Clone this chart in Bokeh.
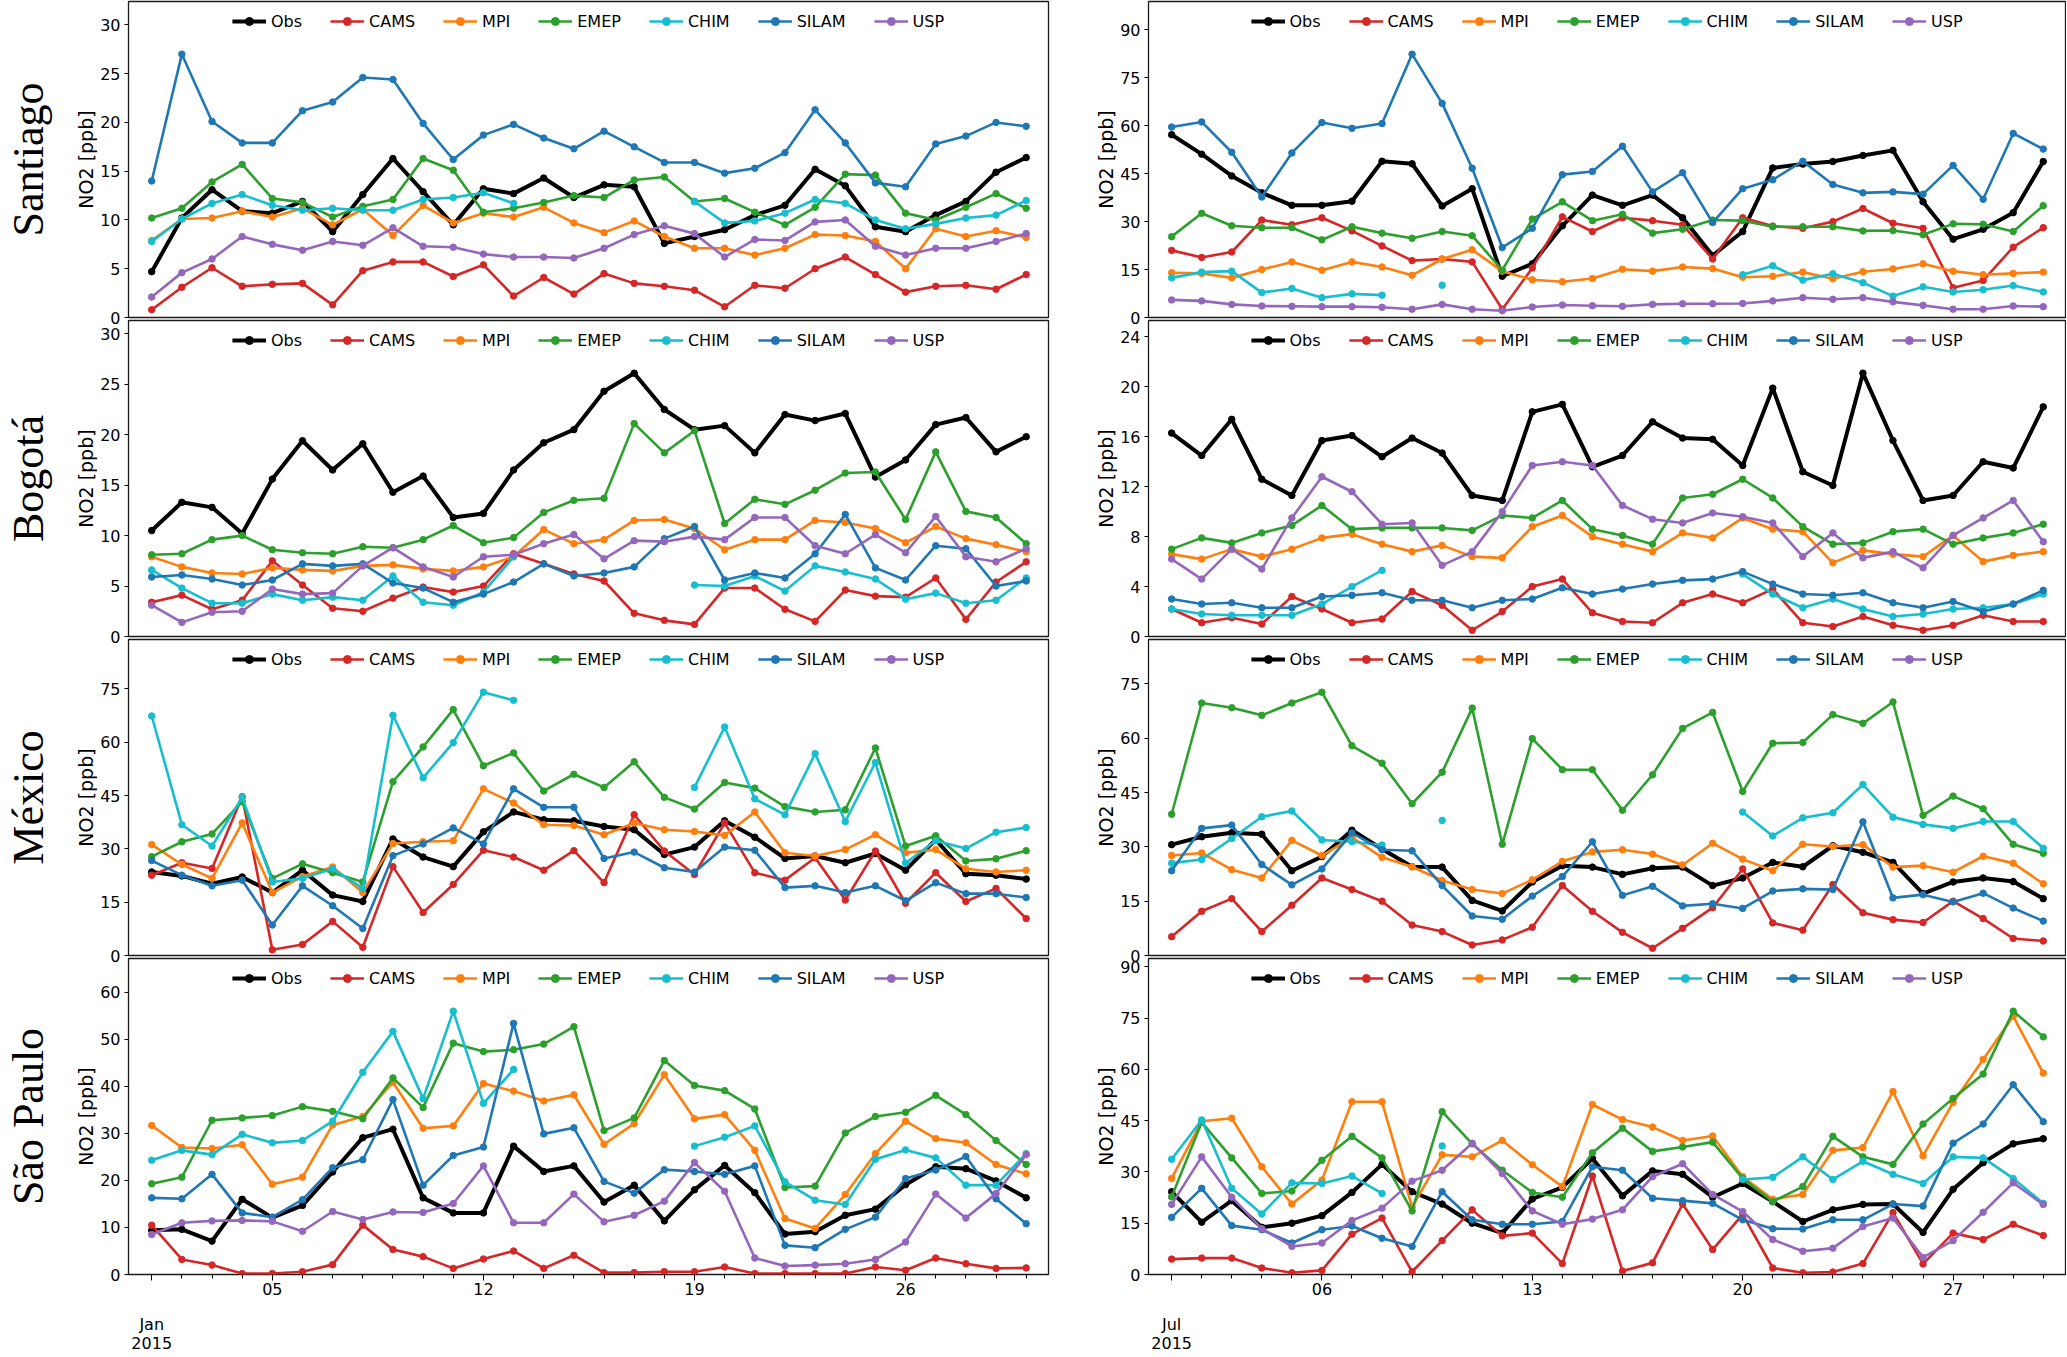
import numpy as np
from bokeh.plotting import figure
from bokeh.models import FixedTicker, LinearAxis, Range1d, Legend, LegendItem, ColumnDataSource
from bokeh.layouts import row, column
from bokeh.embed import file_html
from bokeh.resources import INLINE

NaN = float("nan")

# ---------------- categories / labels ----------------
DAYS = list(range(1, 31))
SERIES = ["Obs", "CAMS", "MPI", "EMEP", "CHIM", "SILAM", "USP"]
CITIES = ["Santiago", "Bogotá", "México", "São Paulo"]
MONTHS = ["Jan", "Jul"]
MONTH_LABELS = {"Jan": "Jan\n2015", "Jul": "Jul\n2015"}
WEEK_TICKS = {"Jan": [5, 12, 19, 26], "Jul": [6, 13, 20, 27]}
WEEK_TICK_LABELS = {"Jan": ["05", "12", "19", "26"], "Jul": ["06", "13", "20", "27"]}
Y_LABEL = "NO2 [ppb]"
Y_TICKS = {
    ("Santiago", "Jan"): [0, 5, 10, 15, 20, 25, 30],
    ("Santiago", "Jul"): [0, 15, 30, 45, 60, 75, 90],
    ("Bogotá", "Jan"): [0, 5, 10, 15, 20, 25, 30],
    ("Bogotá", "Jul"): [0, 4, 8, 12, 16, 20, 24],
    ("México", "Jan"): [0, 15, 30, 45, 60, 75],
    ("México", "Jul"): [0, 15, 30, 45, 60, 75],
    ("São Paulo", "Jan"): [0, 10, 20, 30, 40, 50, 60],
    ("São Paulo", "Jul"): [0, 15, 30, 45, 60, 75, 90],
}

# ---------------- Santiago, January ----------------
SANTIAGO_JAN_OBS = [4.7, 10.2, 13.1, 10.9, 10.7, 11.9, 8.8, 12.6, 16.3, 12.9, 9.5, 13.2, 12.7, 14.3, 12.3, 13.6, 13.4, 7.6, 8.3, 9.0, 10.5, 11.5, 15.2, 13.5, 9.3, 8.8, 10.5, 11.9, 14.9, 16.4]
SANTIAGO_JAN_CAMS = [0.8, 3.1, 5.1, 3.2, 3.4, 3.5, 1.3, 4.8, 5.7, 5.7, 4.2, 5.4, 2.2, 4.1, 2.4, 4.5, 3.5, 3.2, 2.8, 1.1, 3.3, 3.0, 5.0, 6.2, 4.4, 2.6, 3.2, 3.3, 2.9, 4.4]
SANTIAGO_JAN_MPI = [7.9, 10.1, 10.2, 10.9, 10.3, 11.2, 9.5, 11.1, 8.4, 11.5, 9.7, 10.7, 10.3, 11.3, 9.7, 8.7, 9.9, 8.3, 7.1, 7.1, 6.4, 7.1, 8.5, 8.4, 7.8, 5.0, 9.1, 8.3, 8.9, 8.2]
SANTIAGO_JAN_EMEP = [10.2, 11.2, 13.9, 15.7, 12.2, 11.8, 10.3, 11.4, 12.1, 16.3, 15.1, 10.8, 11.2, 11.8, 12.5, 12.3, 14.1, 14.4, 11.9, 12.2, 10.8, 9.5, 11.3, 14.7, 14.6, 10.7, 10.0, 11.3, 12.7, 11.2]
SANTIAGO_JAN_CHIM = [7.8, 10.1, 11.7, 12.6, 11.5, 11.0, 11.2, 11.0, 11.0, 12.1, 12.3, 12.8, 11.7, NaN, NaN, NaN, NaN, NaN, 11.9, 9.7, 9.9, 10.7, 12.1, 11.7, 10.0, 9.1, 9.6, 10.2, 10.5, 12.0]
SANTIAGO_JAN_SILAM = [14.0, 27.0, 20.1, 17.9, 17.9, 21.2, 22.1, 24.6, 24.4, 19.9, 16.2, 18.7, 19.8, 18.4, 17.3, 19.1, 17.5, 15.9, 15.9, 14.8, 15.3, 16.9, 21.3, 17.9, 13.8, 13.4, 17.8, 18.6, 20.0, 19.6]
SANTIAGO_JAN_USP = [2.1, 4.6, 6.0, 8.3, 7.5, 6.9, 7.8, 7.4, 9.2, 7.3, 7.2, 6.5, 6.2, 6.2, 6.1, 7.1, 8.5, 9.4, 8.6, 6.2, 8.0, 7.9, 9.8, 10.0, 7.3, 6.4, 7.1, 7.1, 7.8, 8.6]

# ---------------- Santiago, July ----------------
SANTIAGO_JUL_OBS = [57.2, 51.1, 44.3, 39.0, 35.1, 35.1, 36.4, 48.9, 48.1, 34.9, 40.3, 12.9, 16.8, 28.7, 38.3, 35.1, 38.3, 31.2, 19.4, 26.9, 46.8, 48.0, 48.8, 50.7, 52.3, 36.2, 24.5, 27.6, 32.8, 48.8]
SANTIAGO_JUL_CAMS = [21.0, 18.8, 20.5, 30.5, 29.0, 31.2, 27.1, 22.4, 17.8, 18.3, 17.4, 2.6, 15.5, 31.5, 26.9, 31.2, 30.3, 29.0, 18.3, 31.2, 28.6, 27.9, 30.0, 34.1, 29.5, 27.9, 9.3, 11.6, 22.0, 28.1]
SANTIAGO_JUL_MPI = [14.0, 13.8, 12.4, 15.0, 17.4, 14.8, 17.4, 15.8, 13.2, 18.3, 21.2, 14.5, 11.8, 11.2, 12.2, 15.1, 14.5, 15.8, 15.3, 12.6, 12.9, 14.2, 12.1, 14.3, 15.2, 16.8, 14.5, 13.4, 13.8, 14.2]
SANTIAGO_JUL_EMEP = [25.3, 32.6, 28.7, 28.1, 28.1, 24.3, 28.4, 26.4, 24.8, 26.9, 25.6, 14.8, 30.8, 36.2, 30.3, 32.3, 26.4, 27.6, 30.5, 30.3, 28.4, 28.4, 28.4, 27.1, 27.2, 25.9, 29.3, 29.2, 26.9, 35.0]
SANTIAGO_JUL_CHIM = [12.4, 14.2, 14.5, 7.8, 9.1, 6.2, 7.4, 7.0, NaN, 10.1, NaN, NaN, NaN, NaN, NaN, NaN, NaN, NaN, NaN, 13.4, 16.2, 11.7, 13.7, 10.9, 6.7, 9.6, 8.0, 8.7, 10.0, 8.0]
SANTIAGO_JUL_SILAM = [59.6, 61.2, 51.7, 37.7, 51.5, 61.0, 59.2, 60.7, 82.4, 67.0, 46.7, 21.9, 27.9, 44.7, 45.7, 53.6, 39.3, 45.3, 29.7, 40.3, 43.1, 48.9, 41.6, 39.0, 39.3, 38.6, 47.6, 37.0, 57.6, 52.7]
SANTIAGO_JUL_USP = [5.5, 5.2, 4.1, 3.6, 3.5, 3.4, 3.4, 3.2, 2.6, 4.1, 2.6, 2.1, 3.3, 3.9, 3.7, 3.5, 4.1, 4.3, 4.3, 4.4, 5.2, 6.2, 5.7, 6.2, 4.9, 3.8, 2.6, 2.6, 3.6, 3.4]

# ---------------- Bogotá, January ----------------
BOGOTA_JAN_OBS = [10.5, 13.3, 12.8, 10.2, 15.6, 19.4, 16.5, 19.1, 14.3, 15.9, 11.8, 12.2, 16.5, 19.2, 20.5, 24.3, 26.1, 22.5, 20.5, 20.9, 18.2, 22.0, 21.4, 22.1, 15.8, 17.5, 21.0, 21.7, 18.3, 19.8]
BOGOTA_JAN_CAMS = [3.4, 4.1, 2.7, 3.6, 7.5, 5.1, 2.8, 2.5, 3.8, 4.9, 4.4, 5.0, 8.2, 7.2, 6.2, 5.5, 2.3, 1.6, 1.2, 4.8, 4.8, 2.7, 1.5, 4.6, 4.0, 3.9, 5.8, 1.7, 5.4, 7.4]
BOGOTA_JAN_MPI = [7.9, 6.9, 6.3, 6.2, 6.8, 6.6, 6.5, 7.0, 7.1, 6.7, 6.5, 6.9, 7.9, 10.6, 9.2, 9.6, 11.5, 11.6, 10.7, 8.6, 9.6, 9.6, 11.5, 11.3, 10.7, 9.3, 10.9, 9.7, 9.1, 8.4]
BOGOTA_JAN_EMEP = [8.1, 8.2, 9.6, 10.0, 8.6, 8.3, 8.2, 8.9, 8.8, 9.6, 11.0, 9.3, 9.8, 12.3, 13.5, 13.7, 21.1, 18.2, 20.4, 11.2, 13.6, 13.1, 14.5, 16.2, 16.3, 11.6, 18.3, 12.4, 11.8, 9.2]
BOGOTA_JAN_CHIM = [6.6, 4.8, 3.3, 3.3, 4.2, 3.6, 3.9, 3.6, 6.0, 3.4, 3.1, 4.4, 7.9, NaN, NaN, NaN, NaN, NaN, 5.1, 5.0, 6.0, 4.5, 7.0, 6.4, 5.7, 3.7, 4.3, 3.3, 3.6, 5.8]
BOGOTA_JAN_SILAM = [5.9, 6.1, 5.7, 5.1, 5.6, 7.2, 7.0, 7.2, 5.3, 4.8, 3.4, 4.2, 5.4, 7.2, 6.0, 6.3, 6.9, 9.7, 10.9, 5.6, 6.3, 5.8, 8.2, 12.1, 6.8, 5.6, 9.0, 8.7, 5.0, 5.5]
BOGOTA_JAN_USP = [3.1, 1.4, 2.4, 2.5, 4.7, 4.2, 4.3, 7.0, 8.8, 6.9, 5.9, 7.9, 8.1, 9.2, 10.1, 7.7, 9.5, 9.4, 9.9, 9.6, 11.8, 11.8, 9.0, 8.2, 10.1, 8.3, 11.9, 7.9, 7.4, 8.7]

# ---------------- Bogotá, July ----------------
BOGOTA_JUL_OBS = [16.3, 14.5, 17.4, 12.6, 11.3, 15.7, 16.1, 14.4, 15.9, 14.7, 11.3, 10.9, 18.0, 18.6, 13.6, 14.5, 17.2, 15.9, 15.8, 13.7, 19.9, 13.2, 12.1, 21.1, 15.7, 10.9, 11.3, 14.0, 13.5, 18.4]
BOGOTA_JUL_CAMS = [2.2, 1.1, 1.5, 1.0, 3.2, 2.2, 1.1, 1.4, 3.6, 2.5, 0.5, 2.0, 4.0, 4.6, 1.9, 1.2, 1.1, 2.7, 3.4, 2.7, 3.8, 1.1, 0.8, 1.6, 0.9, 0.5, 0.9, 1.7, 1.2, 1.2]
BOGOTA_JUL_MPI = [6.6, 6.2, 7.0, 6.4, 7.0, 7.9, 8.2, 7.4, 6.8, 7.3, 6.4, 6.3, 8.8, 9.7, 8.0, 7.4, 6.8, 8.3, 7.9, 9.5, 8.6, 8.4, 5.9, 6.9, 6.6, 6.4, 8.1, 6.0, 6.5, 6.8]
BOGOTA_JUL_EMEP = [7.0, 7.9, 7.5, 8.3, 8.9, 10.5, 8.6, 8.7, 8.7, 8.7, 8.5, 9.7, 9.5, 10.9, 8.6, 8.1, 7.4, 11.1, 11.4, 12.6, 11.1, 8.8, 7.4, 7.5, 8.4, 8.6, 7.4, 7.9, 8.3, 9.0]
BOGOTA_JUL_CHIM = [2.2, 1.8, 1.7, 1.7, 1.7, 2.6, 4.0, 5.3, NaN, NaN, NaN, NaN, NaN, NaN, NaN, NaN, NaN, NaN, NaN, 5.0, 3.4, 2.3, 3.0, 2.2, 1.6, 1.8, 2.2, 2.3, 2.6, 3.4]
BOGOTA_JUL_SILAM = [3.0, 2.6, 2.7, 2.3, 2.3, 3.2, 3.3, 3.5, 2.9, 2.9, 2.3, 2.9, 3.0, 3.9, 3.4, 3.8, 4.2, 4.5, 4.6, 5.2, 4.2, 3.4, 3.3, 3.5, 2.7, 2.3, 2.8, 2.0, 2.6, 3.7]
BOGOTA_JUL_USP = [6.2, 4.6, 7.0, 5.4, 9.5, 12.8, 11.6, 9.0, 9.1, 5.7, 6.8, 10.0, 13.7, 14.0, 13.7, 10.5, 9.4, 9.1, 9.9, 9.6, 9.1, 6.4, 8.3, 6.3, 6.8, 5.5, 8.1, 9.5, 10.9, 7.6]

# ---------------- México, January ----------------
MEXICO_JAN_OBS = [23.5, 22.4, 20.2, 22.1, 17.7, 24.0, 17.0, 15.2, 32.8, 27.7, 25.0, 34.8, 40.4, 38.2, 37.9, 36.3, 35.4, 28.4, 30.5, 37.9, 33.3, 27.3, 28.0, 26.1, 28.7, 24.0, 32.6, 23.0, 22.6, 21.5]
MEXICO_JAN_CAMS = [22.6, 26.1, 24.5, 44.7, 1.6, 3.1, 9.6, 2.3, 25.0, 12.1, 20.0, 29.6, 27.7, 24.0, 29.5, 20.5, 39.6, 29.4, 22.8, 37.3, 23.3, 21.2, 27.5, 15.6, 29.4, 14.7, 23.3, 15.2, 18.9, 10.4]
MEXICO_JAN_MPI = [31.2, 25.6, 21.7, 37.3, 17.7, 22.2, 24.9, 17.7, 31.5, 32.0, 32.3, 46.9, 42.9, 36.8, 36.6, 34.0, 37.3, 35.4, 34.9, 33.8, 40.4, 28.9, 28.0, 29.8, 34.0, 28.9, 29.8, 24.4, 23.5, 24.0]
MEXICO_JAN_EMEP = [27.8, 32.0, 34.2, 43.3, 21.7, 25.8, 23.3, 20.7, 48.9, 58.7, 69.2, 53.4, 57.0, 46.3, 51.0, 47.3, 54.5, 44.5, 41.2, 48.7, 47.1, 41.9, 40.4, 41.0, 58.4, 30.8, 33.7, 26.6, 27.2, 29.5]
MEXICO_JAN_CHIM = [67.4, 36.8, 30.8, 44.5, 20.7, 21.7, 24.4, 18.9, 67.6, 50.0, 59.9, 74.1, 71.8, NaN, NaN, NaN, NaN, NaN, 47.3, 64.3, 44.1, 39.6, 56.8, 37.7, 54.3, 26.0, 32.3, 30.1, 34.7, 36.0]
MEXICO_JAN_SILAM = [26.7, 22.6, 19.6, 21.2, 8.6, 19.6, 14.0, 7.6, 28.1, 31.4, 35.9, 31.4, 46.9, 41.7, 41.7, 27.3, 29.1, 24.7, 23.5, 30.5, 29.6, 19.1, 19.6, 17.7, 19.6, 15.4, 20.5, 17.4, 17.4, 16.3]
MEXICO_JAN_USP = [NaN] * 30

# ---------------- México, July ----------------
MEXICO_JUL_OBS = [30.6, 32.8, 33.9, 33.5, 23.4, 27.3, 34.6, 29.4, 24.5, 24.4, 15.2, 12.3, 20.3, 24.8, 24.4, 22.4, 24.1, 24.4, 19.3, 21.4, 25.7, 24.5, 30.3, 28.5, 25.7, 17.1, 20.3, 21.4, 20.4, 15.7]
MEXICO_JUL_CAMS = [5.2, 12.2, 15.7, 6.6, 13.9, 21.4, 18.2, 15.0, 8.4, 6.6, 2.9, 4.3, 7.8, 19.3, 12.2, 6.4, 2.0, 7.5, 13.2, 23.9, 9.0, 7.0, 19.6, 11.8, 9.9, 9.1, 15.0, 10.2, 4.7, 4.0]
MEXICO_JUL_MPI = [27.6, 28.3, 23.7, 21.4, 31.8, 27.6, 32.6, 27.1, 24.5, 20.7, 18.2, 17.1, 20.9, 26.0, 28.6, 29.2, 28.0, 25.0, 31.0, 26.6, 23.4, 30.7, 30.1, 30.6, 24.4, 24.8, 23.0, 27.4, 25.5, 19.8]
MEXICO_JUL_EMEP = [39.0, 69.7, 68.4, 66.3, 69.7, 72.7, 57.9, 53.1, 41.9, 50.6, 68.3, 30.7, 59.9, 51.3, 51.3, 40.1, 49.9, 62.7, 67.1, 45.3, 58.6, 58.8, 66.5, 64.1, 70.0, 38.7, 44.0, 40.5, 30.7, 28.2]
MEXICO_JUL_CHIM = [25.5, 26.5, 32.3, 38.3, 39.9, 31.9, 31.4, 30.5, NaN, 37.3, NaN, NaN, NaN, NaN, NaN, NaN, NaN, NaN, NaN, 39.6, 33.0, 38.0, 39.4, 47.2, 38.2, 36.2, 35.1, 37.0, 37.0, 29.6]
MEXICO_JUL_SILAM = [23.4, 35.1, 36.0, 25.1, 19.5, 23.9, 33.8, 29.2, 28.9, 19.3, 10.9, 10.0, 16.4, 21.8, 31.4, 16.6, 19.1, 13.7, 14.3, 13.0, 17.8, 18.4, 18.2, 36.9, 15.9, 16.8, 14.8, 17.2, 13.1, 9.5]
MEXICO_JUL_USP = [NaN] * 30

# ---------------- São Paulo, January ----------------
SAOPAULO_JAN_OBS = [9.4, 9.6, 7.1, 16.0, 12.1, 14.7, 21.8, 29.1, 30.9, 16.3, 13.1, 13.1, 27.3, 21.9, 23.1, 15.4, 19.0, 11.4, 18.0, 23.2, 17.4, 8.6, 9.1, 12.6, 13.9, 19.1, 22.9, 22.5, 19.9, 16.3]
SAOPAULO_JAN_CAMS = [10.5, 3.2, 2.0, 0.2, 0.2, 0.6, 2.1, 10.5, 5.3, 3.8, 1.3, 3.3, 5.0, 1.3, 4.1, 0.4, 0.4, 0.6, 0.6, 1.6, 0.2, 0.2, 0.2, 0.2, 1.6, 0.9, 3.5, 2.3, 1.3, 1.4]
SAOPAULO_JAN_MPI = [31.7, 27.0, 26.8, 27.6, 19.2, 20.7, 31.8, 33.6, 40.9, 31.1, 31.6, 40.6, 39.0, 36.9, 38.2, 27.7, 32.1, 42.5, 33.1, 34.0, 26.4, 11.9, 9.8, 17.0, 25.7, 32.6, 28.9, 28.0, 23.4, 21.4]
SAOPAULO_JAN_EMEP = [19.3, 20.7, 32.8, 33.3, 33.8, 35.7, 34.7, 33.1, 41.8, 35.5, 49.2, 47.4, 47.8, 49.0, 52.7, 30.6, 33.3, 45.5, 40.2, 39.1, 35.2, 18.5, 18.8, 30.1, 33.6, 34.5, 38.1, 34.0, 28.5, 23.4]
SAOPAULO_JAN_CHIM = [24.3, 26.4, 25.5, 29.8, 28.0, 28.5, 32.6, 43.0, 51.7, 37.4, 56.0, 36.4, 43.6, NaN, NaN, NaN, NaN, NaN, 27.3, 29.2, 31.6, 19.7, 15.8, 14.9, 24.5, 26.5, 24.8, 19.0, 19.0, 25.7]
SAOPAULO_JAN_SILAM = [16.3, 16.1, 21.3, 13.1, 12.2, 15.9, 22.7, 24.4, 37.2, 19.0, 25.3, 27.1, 53.4, 29.9, 31.2, 19.8, 17.3, 22.3, 21.9, 21.3, 23.1, 6.2, 5.7, 9.6, 12.2, 20.4, 22.2, 25.1, 16.1, 10.8]
SAOPAULO_JAN_USP = [8.5, 11.0, 11.4, 11.5, 11.3, 9.2, 13.4, 11.7, 13.3, 13.2, 15.1, 23.1, 11.0, 11.0, 17.1, 11.2, 12.6, 15.6, 23.8, 17.7, 3.5, 1.8, 2.0, 2.3, 3.2, 6.9, 17.1, 12.0, 17.2, 25.5]

# ---------------- São Paulo, July ----------------
SAOPAULO_JUL_OBS = [24.2, 15.3, 21.6, 13.8, 15.0, 17.2, 24.0, 32.2, 24.2, 20.6, 15.0, 12.1, 22.1, 25.5, 33.9, 23.0, 30.3, 29.3, 22.6, 26.6, 21.3, 15.5, 18.9, 20.5, 20.6, 12.3, 24.9, 32.7, 38.2, 39.7]
SAOPAULO_JUL_CAMS = [4.5, 4.8, 4.8, 1.9, 0.5, 1.2, 11.8, 16.5, 0.8, 9.9, 18.9, 11.3, 12.1, 3.2, 28.8, 1.0, 3.4, 20.6, 7.3, 17.6, 1.9, 0.5, 0.7, 3.2, 18.1, 3.1, 12.1, 10.2, 14.7, 11.4]
SAOPAULO_JUL_MPI = [28.1, 44.8, 45.7, 31.5, 20.6, 27.6, 50.5, 50.5, 19.7, 35.0, 34.4, 39.2, 32.1, 25.7, 49.7, 45.3, 43.1, 39.2, 40.5, 28.6, 22.0, 23.4, 36.3, 37.1, 53.5, 34.7, 50.3, 62.9, 75.5, 58.9]
SAOPAULO_JUL_EMEP = [22.7, 44.5, 34.1, 23.7, 24.4, 33.4, 40.4, 34.1, 18.6, 47.6, 38.2, 30.5, 24.0, 22.6, 35.6, 42.8, 36.0, 37.3, 38.7, 28.1, 21.3, 25.7, 40.4, 34.4, 32.2, 44.0, 51.5, 58.6, 77.0, 69.5]
SAOPAULO_JUL_CHIM = [33.7, 45.2, 25.2, 17.7, 26.8, 26.6, 28.8, 23.7, NaN, 37.6, NaN, NaN, NaN, NaN, NaN, NaN, NaN, NaN, NaN, 27.8, 28.4, 34.4, 27.8, 33.1, 29.3, 26.6, 34.4, 34.1, 28.1, 20.8]
SAOPAULO_JUL_SILAM = [16.7, 25.2, 14.3, 13.1, 9.2, 13.1, 14.2, 10.6, 8.2, 24.2, 16.0, 14.7, 14.7, 15.5, 31.5, 30.5, 22.3, 21.6, 20.8, 16.0, 13.4, 13.3, 16.0, 16.0, 20.6, 20.0, 38.4, 44.0, 55.5, 44.7]
SAOPAULO_JUL_USP = [20.5, 34.4, 22.6, 13.4, 8.2, 9.2, 15.8, 19.4, 27.3, 30.5, 38.4, 29.5, 18.6, 14.7, 16.2, 18.9, 28.6, 32.4, 23.4, 18.4, 10.2, 6.8, 7.7, 14.0, 16.5, 5.0, 9.9, 18.2, 26.8, 20.5]

DATA = {
    ("Santiago", "Jan"): [SANTIAGO_JAN_OBS, SANTIAGO_JAN_CAMS, SANTIAGO_JAN_MPI, SANTIAGO_JAN_EMEP, SANTIAGO_JAN_CHIM, SANTIAGO_JAN_SILAM, SANTIAGO_JAN_USP],
    ("Santiago", "Jul"): [SANTIAGO_JUL_OBS, SANTIAGO_JUL_CAMS, SANTIAGO_JUL_MPI, SANTIAGO_JUL_EMEP, SANTIAGO_JUL_CHIM, SANTIAGO_JUL_SILAM, SANTIAGO_JUL_USP],
    ("Bogotá", "Jan"): [BOGOTA_JAN_OBS, BOGOTA_JAN_CAMS, BOGOTA_JAN_MPI, BOGOTA_JAN_EMEP, BOGOTA_JAN_CHIM, BOGOTA_JAN_SILAM, BOGOTA_JAN_USP],
    ("Bogotá", "Jul"): [BOGOTA_JUL_OBS, BOGOTA_JUL_CAMS, BOGOTA_JUL_MPI, BOGOTA_JUL_EMEP, BOGOTA_JUL_CHIM, BOGOTA_JUL_SILAM, BOGOTA_JUL_USP],
    ("México", "Jan"): [MEXICO_JAN_OBS, MEXICO_JAN_CAMS, MEXICO_JAN_MPI, MEXICO_JAN_EMEP, MEXICO_JAN_CHIM, MEXICO_JAN_SILAM, MEXICO_JAN_USP],
    ("México", "Jul"): [MEXICO_JUL_OBS, MEXICO_JUL_CAMS, MEXICO_JUL_MPI, MEXICO_JUL_EMEP, MEXICO_JUL_CHIM, MEXICO_JUL_SILAM, MEXICO_JUL_USP],
    ("São Paulo", "Jan"): [SAOPAULO_JAN_OBS, SAOPAULO_JAN_CAMS, SAOPAULO_JAN_MPI, SAOPAULO_JAN_EMEP, SAOPAULO_JAN_CHIM, SAOPAULO_JAN_SILAM, SAOPAULO_JAN_USP],
    ("São Paulo", "Jul"): [SAOPAULO_JUL_OBS, SAOPAULO_JUL_CAMS, SAOPAULO_JUL_MPI, SAOPAULO_JUL_EMEP, SAOPAULO_JUL_CHIM, SAOPAULO_JUL_SILAM, SAOPAULO_JUL_USP],
}

# ---------------- styles / layout ----------------
COLORS = {"Obs": "#000000", "CAMS": "#d62728", "MPI": "#ff7f0e", "EMEP": "#2ca02c",
          "CHIM": "#17becf", "SILAM": "#1f77b4", "USP": "#9467bd"}
LINE_W = {"Obs": 4.0}
DEFAULT_LW = 2.6
SANS = "DejaVu Sans"
SERIF = "Liberation Serif"

FRAME_H = 316
TOP_B = 1
BOT_B = 10           # room for the "0" tick label
OVERLAP = 8          # rows overlap so frames are only 3px apart
BOT_B_LAST = 82
ROW_H = TOP_B + FRAME_H + BOT_B
BOT_H = TOP_B + FRAME_H + BOT_B_LAST
LEFT_W, RIGHT_W = 1068, 998
X_RANGE = (0.23, 30.74)


def make_panel(city, month, idx, bottom):
    left = month == "Jan"
    series = DATA[(city, month)]
    allv = np.concatenate([np.array(s, dtype=float) for s in series])
    ymax = 1.2 * np.nanmax(allv)
    p = figure(width=LEFT_W if left else RIGHT_W, height=BOT_H if bottom else ROW_H,
               x_range=Range1d(*X_RANGE), y_range=Range1d(0, ymax),
               output_backend="svg", toolbar_location=None,
               x_axis_location="below" if bottom else None,
               min_border_left=128 if left else 80, min_border_right=20 if left else 1,
               min_border_top=TOP_B, min_border_bottom=BOT_B_LAST if bottom else BOT_B,
               margin=(0 if idx == 0 else -OVERLAP, 0, 0, 0))
    p.xgrid.visible = False
    p.ygrid.visible = False
    p.outline_line_color = "#1a1a1a"
    p.outline_line_width = 1.3
    p.outline_line_alpha = 1.0
    p.background_fill_color = "white"
    p.border_fill_alpha = 0.0

    ya = p.yaxis[0]
    ya.ticker = FixedTicker(ticks=Y_TICKS[(city, month)])
    ya.axis_line_color = None
    ya.major_tick_out = 4
    ya.major_tick_in = 0
    ya.minor_tick_out = 0
    ya.minor_tick_in = 0
    ya.major_tick_line_color = "black"
    ya.major_label_standoff = 4
    ya.major_label_text_font = SANS
    ya.major_label_text_font_size = "16px"
    ya.major_label_text_color = "black"
    ya.axis_label = Y_LABEL
    ya.axis_label_text_font = SANS
    ya.axis_label_text_font_size = "19px"
    ya.axis_label_text_font_style = "normal"
    ya.axis_label_text_color = "black"
    ya.axis_label_standoff = 0

    if left:
        # outer left axis carrying only the city name
        ca = LinearAxis(ticker=FixedTicker(ticks=[]), axis_label=city)
        ca.axis_line_color = None
        ca.major_tick_line_color = None
        ca.minor_tick_line_color = None
        ca.major_tick_out = 0
        ca.minor_tick_out = 0
        ca.major_tick_in = 0
        ca.minor_tick_in = 0
        ca.major_label_standoff = 0
        ca.axis_label_text_font = SERIF
        ca.axis_label_text_font_size = "44px"
        ca.axis_label_text_font_style = "normal"
        ca.axis_label_text_color = "black"
        ca.axis_label_standoff = 20
        p.add_layout(ca, "left")

    if bottom:
        xa = p.xaxis[0]
        ticks = [DAYS[0]] + WEEK_TICKS[month]
        xa.ticker = FixedTicker(ticks=ticks, minor_ticks=DAYS)
        overrides = {DAYS[0]: ""}
        overrides.update(dict(zip(WEEK_TICKS[month], WEEK_TICK_LABELS[month])))
        xa.major_label_overrides = overrides
        xa.axis_line_color = None
        xa.major_tick_out = 6
        xa.major_tick_in = 0
        xa.minor_tick_out = 4
        xa.minor_tick_in = 0
        xa.major_tick_line_color = "black"
        xa.minor_tick_line_color = "black"
        xa.major_label_standoff = 2
        xa.major_label_text_font = SANS
        xa.major_label_text_font_size = "16px"
        xa.major_label_text_color = "black"

        xb = LinearAxis(ticker=FixedTicker(ticks=[DAYS[0]]),
                        major_label_overrides={DAYS[0]: MONTH_LABELS[month]})
        xb.axis_line_color = None
        xb.major_tick_line_color = None
        xb.minor_tick_line_color = None
        xb.major_tick_out = 0
        xb.major_tick_in = 0
        xb.major_label_standoff = 17
        xb.major_label_text_font = SANS
        xb.major_label_text_font_size = "16px"
        xb.major_label_text_line_height = 1.0
        xb.major_label_text_color = "black"
        p.add_layout(xb, "below")

    items = []
    for name, vals in zip(SERIES, series):
        y = np.array(vals, dtype=float)
        src = ColumnDataSource(dict(x=DAYS, y=y))
        c = COLORS[name]
        lr = p.line("x", "y", source=src, line_color=c, line_width=LINE_W.get(name, DEFAULT_LW),
                    line_join="round")
        sr = p.scatter("x", "y", source=src, marker="circle", size=6.5, fill_color=c, line_color=c)
        items.append(LegendItem(label=name, renderers=[lr, sr]))
    leg = Legend(items=items, orientation="horizontal", location="top_center")
    leg.label_text_font = SANS
    leg.label_text_font_size = "16px"
    leg.label_text_color = "black"
    leg.glyph_width = 34
    leg.glyph_height = 20
    leg.label_standoff = 5
    leg.spacing = 28
    leg.padding = 8
    leg.margin = 10
    leg.border_line_color = None
    leg.background_fill_alpha = 0.0
    p.add_layout(leg, "center")
    return p


left_figs, right_figs = [], []
for i, city in enumerate(CITIES):
    bottom = i == len(CITIES) - 1
    left_figs.append(make_panel(city, "Jan", i, bottom))
    right_figs.append(make_panel(city, "Jul", i, bottom))

layout = row(column(*left_figs), column(*right_figs))

with open("out.html", "w") as f:
    f.write(file_html(layout, INLINE))
